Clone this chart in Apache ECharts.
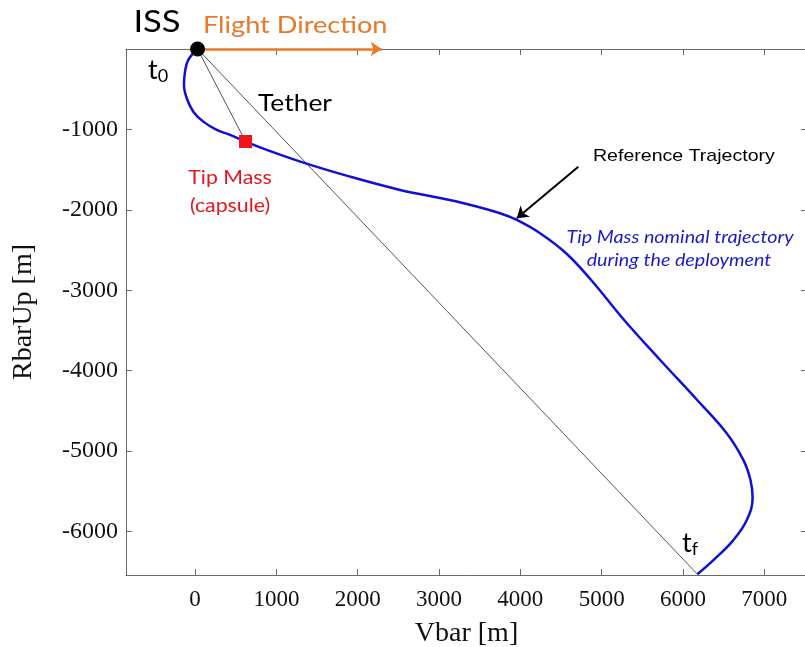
<!DOCTYPE html>
<html>
<head>
<meta charset="utf-8">
<script src="https://cdn.jsdelivr.net/npm/echarts@6/dist/echarts.min.js"></script>
<style>
html,body{margin:0;padding:0;background:#fff;}
#chart{width:805px;height:647px;}
</style>
</head>
<body>
<div id="chart"></div>
<script>
// ---- data ----
const tipX = [30, -84, -124, -137, -103, -22, 101, 266, 429, 620, 881, 1331, 1905, 2520, 2930, 3341, 3750, 3956, 4242, 4562, 4870, 5276, 5719, 6174, 6539, 6743, 6830, 6856, 6785, 6620, 6374, 6177];
const tipY = [0, -136, -281, -447, -612, -779, -903, -1006, -1068, -1150, -1255, -1413, -1587, -1752, -1836, -1927, -2042, -2126, -2291, -2540, -2872, -3369, -3867, -4364, -4780, -5111, -5359, -5580, -5857, -6106, -6355, -6530];
const issPos = [30, 0];
const tipMassPos = [620, -1150];
const tetherFinal = [6177, -6530];
const flightArrowEnd = [2295, 0];
const refArrowStart = [4713, -1463];
const refArrowEnd = [3956, -2104];
const xRange = [-850, 7525];
const yRange = [-6540, 0];

const curve = tipX.map((x, i) => [x, tipY[i]]);

const axisGray = '#6a6a6a';
const serif = '"Liberation Serif", "Times New Roman", serif';
const sans = 'Lato, "Noto Sans", sans-serif';

const chart = echarts.init(document.getElementById('chart'));

function txt(text, x, y, size, color, opts) {
  opts = opts || {};
  return {
    type: 'text', x: x, y: y, z: 100, scaleX: opts.scaleX || 1,
    style: {
      text: text, fill: color,
      font: (opts.italic ? 'italic ' : '') + (opts.weight || 'normal') + ' ' + size + 'px ' + (opts.family || sans),
      textAlign: opts.align || 'left', textVerticalAlign: 'middle'
    }
  };
}

const baseLine = { onZero: false, show: true, lineStyle: { color: axisGray, width: 1 } };
const baseTick = { show: true, inside: true, length: 6, lineStyle: { color: axisGray } };

const option = {
  animation: false,
  backgroundColor: '#fff',
  grid: { left: 126, top: 49, right: -2, bottom: 72, containLabel: false, outerBoundsMode: 'none' },
  xAxis: [
    {
      type: 'value', min: xRange[0], max: xRange[1], splitNumber: 8, position: 'bottom',
      name: 'Vbar [m]', nameLocation: 'middle', nameGap: 45,
      nameTextStyle: { fontFamily: serif, fontSize: 28, color: '#111' },
      axisLine: baseLine, axisTick: baseTick,
      axisLabel: { formatter: v => (v % 1000 === 0 ? String(v) : ''), fontFamily: serif, fontSize: 23, color: '#111', margin: 13 },
      splitLine: { show: false }
    },
    {
      type: 'value', min: xRange[0], max: xRange[1], splitNumber: 8, position: 'top',
      axisLine: baseLine, axisTick: baseTick,
      axisLabel: { show: false }, splitLine: { show: false }
    }
  ],
  yAxis: [
    {
      type: 'value', min: yRange[0], max: yRange[1], splitNumber: 7, position: 'left',
      name: 'RbarUp [m]', nameLocation: 'middle', nameGap: 88, nameRotate: 90,
      nameTextStyle: { fontFamily: serif, fontSize: 28, color: '#111' },
      axisLine: baseLine, axisTick: baseTick,
      axisLabel: { formatter: v => (v % 1000 === 0 && v !== 0 ? String(v) : ''), fontFamily: serif, fontSize: 24, color: '#111', margin: 8 },
      splitLine: { show: false }
    },
    {
      type: 'value', min: yRange[0], max: yRange[1], splitNumber: 7, position: 'right',
      axisLine: baseLine, axisTick: baseTick,
      axisLabel: { show: false }, splitLine: { show: false }
    }
  ],
  series: [
    {
      name: 'Tether (capsule)', type: 'line', data: [issPos, tipMassPos], showSymbol: false, symbol: 'none',
      lineStyle: { color: '#555', width: 1 }, clip: false, z: 2
    },
    {
      name: 'Tether (final)', type: 'line', data: [issPos, tetherFinal], showSymbol: false, symbol: 'none',
      lineStyle: { color: '#555', width: 1 }, clip: false, z: 2
    },
    {
      name: 'Tip Mass trajectory', type: 'line', data: curve, smooth: 0.4, showSymbol: false, symbol: 'none',
      lineStyle: { color: '#1010d2', width: 2.5 }, clip: false, z: 3
    },
    {
      name: 'Flight Direction', type: 'lines', coordinateSystem: 'cartesian2d',
      data: [{ coords: [issPos, flightArrowEnd] }],
      symbol: ['none', 'arrow'], symbolSize: [0, 11],
      lineStyle: { color: '#e8782a', width: 2.5, opacity: 1, curveness: 0 }, clip: false, z: 4
    },
    {
      name: 'Reference arrow', type: 'lines', coordinateSystem: 'cartesian2d',
      data: [{ coords: [refArrowStart, refArrowEnd] }],
      symbol: ['none', 'arrow'], symbolSize: [0, 11],
      lineStyle: { color: '#000', width: 2, opacity: 1, curveness: 0 }, clip: false, z: 4
    },
    {
      name: 'ISS', type: 'scatter', data: [issPos], symbol: 'circle', symbolSize: 15,
      itemStyle: { color: '#000', opacity: 1 }, clip: false, z: 6
    },
    {
      name: 'Tip Mass', type: 'scatter', data: [tipMassPos], symbol: 'rect', symbolSize: 13,
      itemStyle: { color: '#f0141c', opacity: 1 }, clip: false, z: 6
    }
  ],
  graphic: [
    txt('ISS', 157, 22, 30, '#000', { align: 'center', scaleX: 1.15 }),
    txt('Flight Direction', 203, 26, 23, '#e8782a', { scaleX: 1.18 }),
    txt('Tether', 258, 103, 24, '#000', { scaleX: 1.1 }),
    txt('Tip Mass', 230, 178, 19, '#e3171f', { align: 'center', scaleX: 1.12 }),
    txt('(capsule)', 230, 206, 19, '#e3171f', { align: 'center', scaleX: 1.12 }),
    txt('Reference Trajectory', 593, 156, 17, '#000', { family: '"Liberation Sans", Arial, sans-serif', scaleX: 1.15 }),
    txt('Tip Mass nominal trajectory', 680, 238, 17, '#1a1ac8', { align: 'center', italic: true, scaleX: 1.16 }),
    txt('during the deployment', 679, 261, 17, '#1a1ac8', { align: 'center', italic: true, scaleX: 1.16 }),
    {
      type: 'text', x: 148, y: 70, z: 100,
      style: {
        text: '{t|t}{s|0}', textVerticalAlign: 'middle',
        rich: { t: { font: 'normal 27px ' + sans, fill: '#000' }, s: { font: 'normal 18px ' + sans, fill: '#000', padding: [12, 0, 0, 0] } }
      }
    },
    {
      type: 'text', x: 682, y: 543, z: 100,
      style: {
        text: '{t|t}{s|f}', textVerticalAlign: 'middle',
        rich: { t: { font: 'normal 27px ' + sans, fill: '#000' }, s: { font: 'normal 18px ' + sans, fill: '#000', padding: [12, 0, 0, 0] } }
      }
    }
  ]
};
chart.setOption(option);
</script>
</body>
</html>
